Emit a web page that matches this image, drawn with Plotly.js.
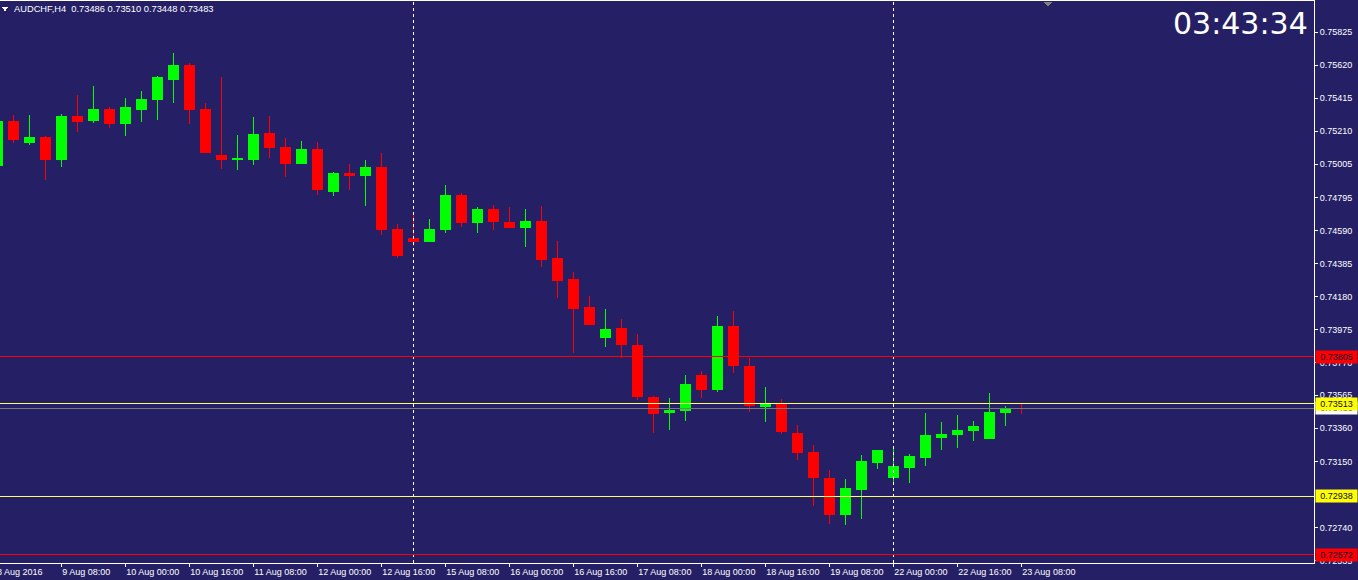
<!DOCTYPE html>
<html>
<head>
<meta charset="utf-8">
<script src="https://cdn.plot.ly/plotly-3.0.1.min.js"></script>
<style>
html,body{margin:0;padding:0;background:#252066;overflow:hidden;}
#chart{width:1358px;height:580px;}
.main-svg .shapelayer path, .main-svg .trace path, .main-svg .xtick, .main-svg .ytick, .main-svg path.xtick, .main-svg path.ytick, .main-svg .xlines-above, .main-svg .ylines-above {shape-rendering:crispEdges;}
</style>
</head>
<body>
<div id="chart"></div>
<script>
// ---------------- DATA ----------------
const symbolTitle = "AUDCHF,H4&nbsp; 0.73486 0.73510 0.73448 0.73483";
const clockText = "03:43:34";
const firstDateLabel = "8 Aug 2016";

const barTimes = [
  "8 Aug 16:00","8 Aug 20:00","9 Aug 00:00","9 Aug 04:00","9 Aug 08:00","9 Aug 12:00","9 Aug 16:00","9 Aug 20:00",
  "10 Aug 00:00","10 Aug 04:00","10 Aug 08:00","10 Aug 12:00","10 Aug 16:00","10 Aug 20:00",
  "11 Aug 00:00","11 Aug 04:00","11 Aug 08:00","11 Aug 12:00","11 Aug 16:00","11 Aug 20:00",
  "12 Aug 00:00","12 Aug 04:00","12 Aug 08:00","12 Aug 12:00","12 Aug 16:00","12 Aug 20:00",
  "15 Aug 00:00","15 Aug 04:00","15 Aug 08:00","15 Aug 12:00","15 Aug 16:00","15 Aug 20:00",
  "16 Aug 00:00","16 Aug 04:00","16 Aug 08:00","16 Aug 12:00","16 Aug 16:00","16 Aug 20:00",
  "17 Aug 00:00","17 Aug 04:00","17 Aug 08:00","17 Aug 12:00","17 Aug 16:00","17 Aug 20:00",
  "18 Aug 00:00","18 Aug 04:00","18 Aug 08:00","18 Aug 12:00","18 Aug 16:00","18 Aug 20:00",
  "19 Aug 00:00","19 Aug 04:00","19 Aug 08:00","19 Aug 12:00","19 Aug 16:00","19 Aug 20:00",
  "22 Aug 00:00","22 Aug 04:00","22 Aug 08:00","22 Aug 12:00","22 Aug 16:00","22 Aug 20:00",
  "23 Aug 00:00","23 Aug 04:00","23 Aug 08:00"
];

const opens = [
  0.74993, 0.75268, 0.75138, 0.75173, 0.75032, 0.75298, 0.75273, 0.75347, 0.75256, 0.75343,
  0.75404, 0.75534, 0.75621, 0.75347, 0.75061, 0.75032, 0.75036, 0.75192, 0.75111, 0.75011,
  0.75098, 0.74837, 0.74943, 0.74932, 0.74986, 0.74600, 0.74544, 0.74521, 0.74600, 0.74812,
  0.74640, 0.74719, 0.74644, 0.74608, 0.74650, 0.74414, 0.74283, 0.74109, 0.73924, 0.73978,
  0.73878, 0.73554, 0.73457, 0.73469, 0.73691, 0.73600, 0.73996, 0.73747, 0.73494, 0.73505,
  0.73330, 0.73212, 0.73050, 0.72822, 0.72977, 0.73145, 0.73052, 0.73114, 0.73177, 0.73305,
  0.73320, 0.73343, 0.73295, 0.73457, 0.73486
];
const highs = [
  0.75280, 0.75310, 0.75310, 0.75179, 0.75316, 0.75435, 0.75491, 0.75360, 0.75416, 0.75460,
  0.75553, 0.75696, 0.75634, 0.75385, 0.75547, 0.75186, 0.75298, 0.75304, 0.75167, 0.75148,
  0.75142, 0.74955, 0.75005, 0.75030, 0.75074, 0.74632, 0.74706, 0.74663, 0.74874, 0.74825,
  0.74737, 0.74750, 0.74737, 0.74725, 0.74744, 0.74526, 0.74333, 0.74183, 0.74102, 0.74040,
  0.73947, 0.73561, 0.73548, 0.73691, 0.73716, 0.74059, 0.74090, 0.73797, 0.73617, 0.73542,
  0.73380, 0.73256, 0.73100, 0.73044, 0.73193, 0.73224, 0.73251, 0.73200, 0.73455, 0.73399,
  0.73442, 0.73405, 0.73579, 0.73498, 0.73510
];
const lows = [
  0.74980, 0.75138, 0.75123, 0.74905, 0.74988, 0.75206, 0.75262, 0.75231, 0.75181, 0.75268,
  0.75281, 0.75387, 0.75256, 0.75074, 0.74976, 0.74968, 0.74999, 0.75044, 0.74926, 0.75005,
  0.74812, 0.74806, 0.74843, 0.74744, 0.74565, 0.74422, 0.74496, 0.74521, 0.74575, 0.74615,
  0.74577, 0.74596, 0.74608, 0.74490, 0.74366, 0.74173, 0.73827, 0.74005, 0.73868, 0.73799,
  0.73538, 0.73332, 0.73351, 0.73407, 0.73550, 0.73587, 0.73706, 0.73463, 0.73399, 0.73326,
  0.73164, 0.72878, 0.72766, 0.72759, 0.72797, 0.73108, 0.73027, 0.73021, 0.73127, 0.73226,
  0.73239, 0.73282, 0.73295, 0.73376, 0.73448
];
const closes = [
  0.75268, 0.75156, 0.75173, 0.75032, 0.75298, 0.75268, 0.75347, 0.75256, 0.75354, 0.75404,
  0.75541, 0.75621, 0.75343, 0.75074, 0.75032, 0.75042, 0.75186, 0.75107, 0.75011, 0.75098,
  0.74845, 0.74943, 0.74932, 0.74986, 0.74596, 0.74434, 0.74521, 0.74600, 0.74812, 0.74640,
  0.74719, 0.74646, 0.74608, 0.74650, 0.74409, 0.74279, 0.74104, 0.74005, 0.73972, 0.73880,
  0.73556, 0.73450, 0.73473, 0.73635, 0.73600, 0.73996, 0.73749, 0.73500, 0.73505, 0.73338,
  0.73208, 0.73052, 0.72822, 0.72982, 0.73150, 0.73224, 0.73119, 0.73181, 0.73312, 0.73324,
  0.73349, 0.73368, 0.73461, 0.73486, 0.73483
];

const xTickLabels = [
  "9 Aug 08:00","10 Aug 00:00","10 Aug 16:00","11 Aug 08:00","12 Aug 00:00","12 Aug 16:00",
  "15 Aug 08:00","16 Aug 00:00","16 Aug 16:00","17 Aug 08:00","18 Aug 00:00","18 Aug 16:00",
  "19 Aug 08:00","22 Aug 00:00","22 Aug 16:00","23 Aug 08:00"
];
const yTickValues = [
  0.75825, 0.75620, 0.75415, 0.75210, 0.75005, 0.74795, 0.74590, 0.74385, 0.74180,
  0.73975, 0.73770, 0.73565, 0.73360, 0.73150, 0.72740, 0.72535
];
const separatorTimes = ["15 Aug 00:00", "22 Aug 00:00"];
const redLevels = [0.73805, 0.72572];
const yellowLevels = [0.73513, 0.72938];
const bidPrice = 0.73483;

// ---------------- STYLE ----------------
const BG = "#252066";
const FONT = "Liberation Sans, Arial, sans-serif";
const UP = "#00ff00", DOWN = "#ff0000";
const TAGTEXT = "#0a0a3c";

const trace = {
  type: "candlestick",
  x: barTimes, open: opens, high: highs, low: lows, close: closes,
  increasing: {line: {color: UP, width: 1}, fillcolor: UP},
  decreasing: {line: {color: DOWN, width: 1}, fillcolor: DOWN},
  whiskerwidth: 0,
  hoverinfo: "skip",
  showlegend: false
};

const shapes = [];
separatorTimes.forEach(t => {
  const xi = barTimes.indexOf(t);
  shapes.push({type: "line", xref: "x", yref: "paper", x0: xi, x1: xi, y0: 0, y1: 1,
    line: {color: "#ffffff", width: 1, dash: "3px,3px"}});
});
redLevels.forEach(p => shapes.push({type: "line", xref: "paper", yref: "y", x0: 0, x1: 1, y0: p, y1: p,
  line: {color: "#ff0000", width: 1}}));
shapes.push({type: "line", xref: "paper", yref: "y", x0: 0, x1: 1, y0: bidPrice, y1: bidPrice,
  line: {color: "#7a7a7a", width: 1}});
yellowLevels.forEach(p => shapes.push({type: "line", xref: "paper", yref: "y", x0: 0, x1: 1, y0: p, y1: p,
  line: {color: "#ffff66", width: 1}}));
// little triangles (title marker and chart-shift marker)
shapes.push({type: "path", xref: "paper", yref: "paper",
  path: "M 0.0015 0.9885 L 0.0060 0.9885 L 0.00375 0.9815 Z",
  fillcolor: "#ffffff", line: {width: 0}});
shapes.push({type: "path", xref: "paper", yref: "paper",
  path: "M 0.7936 0.9990 L 0.8016 0.9990 L 0.7976 0.9900 Z",
  fillcolor: "#808080", line: {width: 0}});

function tag(price, bg) {
  return {x: 1, xref: "paper", xanchor: "left", xshift: 1, y: price, yref: "y", yanchor: "middle",
    text: price.toFixed(5), showarrow: false, bgcolor: bg, borderpad: 1, width: 39, height: 10,
    font: {family: FONT, size: 9, color: TAGTEXT}};
}

const annotations = [
  {x: 0, xref: "paper", xanchor: "left", xshift: 12, y: 0.985, yref: "paper", yanchor: "middle",
    text: symbolTitle, showarrow: false, font: {family: FONT, size: 9.3, color: "#ffffff"}},
  {x: 1, xref: "paper", xanchor: "right", xshift: -5, y: 0.960, yref: "paper", yanchor: "middle",
    text: clockText, showarrow: false, borderpad: 0, font: {family: "DejaVu Sans", size: 30, color: "#ffffff"}},
  {x: 0, xref: "paper", xanchor: "left", xshift: -4, y: -0.016, yref: "paper", yanchor: "middle", borderpad: 0,
    text: firstDateLabel, showarrow: false, font: {family: FONT, size: 9, color: "#ffffff"}},
  tag(redLevels[0], "#ff0000"),
  tag(bidPrice, "#ffffff"),
  tag(yellowLevels[0], "#ffff00"),
  tag(yellowLevels[1], "#ffff00"),
  tag(redLevels[1], "#ff0000")
];

const layout = {
  width: 1358, height: 580,
  margin: {l: 0, r: 44, t: 1, b: 17, pad: 0},
  paper_bgcolor: BG, plot_bgcolor: BG,
  showlegend: false, hovermode: false,
  boxgap: 0.375, boxgroupgap: 0,
  xaxis: {
    type: "category", range: [0.169, 82.29], fixedrange: true,
    rangeslider: {visible: false},
    showgrid: false, zeroline: false,
    showline: true, mirror: true, linecolor: "#ffffff", linewidth: 1,
    ticks: "outside", ticklen: 3, tickcolor: "#ffffff", tickwidth: 1,
    tickmode: "array", tickvals: xTickLabels, ticktext: xTickLabels,
    ticklabelposition: "outside right",
    tickfont: {family: FONT, size: 9, color: "#ffffff"}
  },
  yaxis: {
    side: "right", range: [0.72521, 0.76020], fixedrange: true,
    showgrid: false, zeroline: false,
    showline: true, linecolor: "#ffffff", linewidth: 1,
    ticks: "outside", ticklen: 3, tickcolor: "#ffffff", tickwidth: 1,
    tickmode: "array", tickvals: yTickValues, tickformat: ".5f",
    tickfont: {family: FONT, size: 9, color: "#ffffff"}
  },
  shapes: shapes,
  annotations: annotations
};

Plotly.newPlot("chart", [trace], layout, {displayModeBar: false, staticPlot: true});
</script>
</body>
</html>
